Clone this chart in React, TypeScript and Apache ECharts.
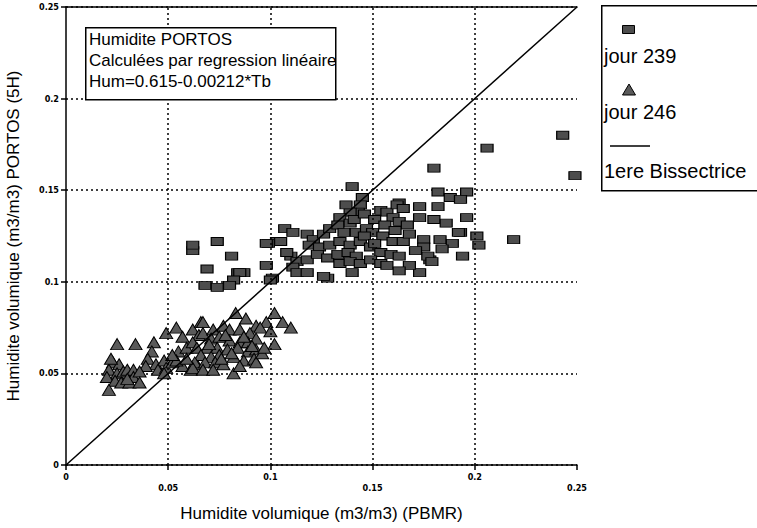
import React, { useEffect, useRef } from "react";
import * as echarts from "echarts";

// jour 239 (squares)
const sqX = [0.243,0.249,0.206,0.180,0.140,0.182,0.188,0.196,0.193,0.173,0.182,0.163,0.196,0.173,0.180,0.186,0.219,0.201,0.202,0.193,0.175,0.175,0.183,0.189,0.194,0.178,0.173,0.192,0.184,0.177,0.179,
0.145,0.144,0.143,0.139,0.134,0.154,0.157,0.162,0.165,0.160,0.163,0.167,0.107,0.111,0.103,0.099,0.118,0.121,0.126,0.129,0.133,0.139,0.136,0.142,0.147,0.150,0.155,0.160,0.165,0.119,0.124,0.129,0.134,0.139,0.144,0.149,0.154,0.159,0.163,0.110,0.113,0.118,0.123,0.128,0.133,0.138,0.142,0.134,0.139,0.144,0.149,0.154,0.157,0.108,0.111,0.113,0.118,0.128,0.140,0.101,0.087,0.081,0.084,0.126,0.105,
0.062,0.062,0.074,0.069,0.085,0.082,0.080,0.068,0.074,0.098,0.098,0.100,
0.137,0.141,0.146,0.151,0.156,0.146,0.151,0.161,0.168,0.171,0.168,0.163];
const sqY = [0.180,0.158,0.173,0.162,0.152,0.149,0.146,0.149,0.145,0.141,0.141,0.143,0.135,0.135,0.134,0.132,0.123,0.125,0.120,0.127,0.123,0.119,0.123,0.121,0.114,0.112,0.105,0.127,0.118,0.114,0.111,
0.146,0.142,0.138,0.138,0.135,0.139,0.138,0.142,0.140,0.135,0.133,0.131,0.129,0.127,0.122,0.121,0.126,0.123,0.126,0.129,0.131,0.132,0.127,0.127,0.129,0.127,0.125,0.122,0.122,0.120,0.119,0.120,0.122,0.120,0.122,0.119,0.116,0.115,0.114,0.114,0.111,0.112,0.115,0.113,0.115,0.116,0.114,0.110,0.111,0.110,0.112,0.110,0.109,0.116,0.108,0.105,0.105,0.102,0.105,0.102,0.105,0.114,0.105,0.103,0.122,
0.117,0.120,0.122,0.107,0.105,0.101,0.098,0.098,0.097,0.121,0.109,0.101,
0.142,0.134,0.137,0.134,0.131,0.125,0.121,0.128,0.126,0.117,0.109,0.106];

// jour 246 (triangles)
const triX = [0.025,0.034,0.043,0.042,0.040,0.023,0.026,0.021,0.025,0.028,0.030,0.033,0.020,0.024,0.027,0.031,0.033,0.021,0.044,0.048,0.045,0.049,0.052,0.049,0.054,0.057,0.062,0.066,0.065,0.055,0.059,0.062,0.057,0.061,0.064,0.054,0.048,0.039,0.036,
0.083,0.088,0.102,0.106,0.098,0.093,0.067,0.067,0.072,0.077,0.080,0.085,0.090,0.095,0.100,0.093,0.071,0.075,0.080,0.085,0.089,0.102,0.064,0.069,0.074,0.079,0.084,0.089,0.093,0.066,0.071,0.075,0.082,0.087,0.092,0.063,0.068,0.073,0.077,0.093,0.082,0.062,0.067,0.072,0.110,
0.078,0.087,0.070,0.091,0.081,0.096,0.076,0.085,0.059,0.052,0.030,0.036,0.022,0.097];
const triY = [0.066,0.066,0.067,0.062,0.058,0.056,0.055,0.052,0.050,0.051,0.052,0.052,0.048,0.046,0.045,0.045,0.048,0.041,0.055,0.057,0.052,0.053,0.056,0.072,0.075,0.070,0.074,0.078,0.071,0.062,0.064,0.067,0.054,0.052,0.055,0.057,0.050,0.054,0.051,
0.083,0.080,0.083,0.078,0.078,0.076,0.078,0.072,0.074,0.076,0.074,0.074,0.072,0.075,0.073,0.069,0.069,0.070,0.068,0.067,0.067,0.066,0.064,0.064,0.064,0.063,0.064,0.062,0.063,0.060,0.059,0.060,0.059,0.057,0.058,0.056,0.056,0.056,0.055,0.056,0.050,0.053,0.052,0.052,0.075,
0.071,0.070,0.066,0.065,0.061,0.061,0.058,0.054,0.058,0.060,0.047,0.045,0.058,0.064];

const bisX = [0, 0.25];
const bisY = [0, 0.25];
const xGridValues = [0.05, 0.1, 0.15, 0.2];

const seriesNames = ["jour 239", "jour 246", "1ere Bissectrice"];
const boxLines = ["Humidite PORTOS", "Calculées par regression linéaire", "Hum=0.615-0.00212*Tb"];
const xTitle = "Humidite volumique (m3/m3) (PBMR)";
const yTitle = "Humidite volumique (m3/m3) PORTOS (5H)";

const FONT = "'Liberation Sans', Arial, sans-serif";
const TICKFONT = "'Liberation Sans Narrow', 'DejaVu Sans Condensed', 'Liberation Sans', sans-serif";
const SQ_FILL = "#4d4d4d";
const TRI_FILL = "#5a5a5a";

export default function App() {
  const ref = useRef<HTMLDivElement>(null);
  useEffect(() => {
    if (!ref.current) return;
    const chart = echarts.init(ref.current, null, { renderer: "svg" });
    const sqData = sqX.map((x, i) => [x, sqY[i]]);
    const triData = triX.map((x, i) => [x, triY[i]]);
    const bisData = bisX.map((x, i) => [x, bisY[i]]);
    const tickLabel = {
      fontSize: 9,
      fontWeight: "bold" as const,
      fontFamily: TICKFONT,
      color: "#000",
    };
    const dotted = { color: "#000", type: [2, 3] as number[], width: 1.5 };
    chart.setOption({
      animation: false,
      backgroundColor: "#fff",
      grid: { left: 66, right: 180, top: 7, bottom: 63, containLabel: false, outerBoundsMode: "none" },
      xAxis: [
        {
          type: "value",
          min: 0,
          max: 0.25,
          interval: 0.05,
          name: xTitle,
          nameLocation: "middle",
          nameGap: 40,
          nameTextStyle: { fontSize: 17, fontFamily: FONT, color: "#000" },
          axisLine: { lineStyle: { color: "#000", width: 1.5 } },
          axisTick: { length: 5, lineStyle: { color: "#000", width: 1.5 } },
          axisLabel: {
            ...tickLabel,
            margin: 6,
            lineHeight: 11,
            formatter: (v: number) => {
              const k = Math.round(v / 0.05);
              const s = String(Math.round(v * 100) / 100);
              return k % 2 === 1 ? "\n" + s : s;
            },
          },
          splitLine: { show: false },
        },
        {
          type: "value",
          position: "top",
          min: 0,
          max: 0.25,
          interval: 0.05,
          axisLine: { show: true, lineStyle: { color: "#000", width: 1.5 } },
          axisTick: { show: false },
          axisLabel: { show: false },
          splitLine: { show: false },
        },
      ],
      yAxis: {
        type: "value",
        min: 0,
        max: 0.25,
        interval: 0.05,
        name: yTitle,
        nameLocation: "middle",
        nameGap: 44,
        nameTextStyle: { fontSize: 17, fontFamily: FONT, color: "#000" },
        axisLine: { show: true, lineStyle: { color: "#000", width: 1.5 } },
        axisTick: { show: true, length: 5, lineStyle: { color: "#000", width: 1.5 } },
        axisLabel: { ...tickLabel, margin: 7, formatter: (v: number) => String(Math.round(v * 100) / 100) },
        splitLine: { show: true, lineStyle: dotted },
      },
      series: [
        {
          name: "grid",
          type: "line",
          data: [],
          z: 1,
          markLine: {
            silent: true,
            symbol: "none",
            label: { show: false },
            lineStyle: dotted,
            data: xGridValues.map((v) => ({ xAxis: v })),
          },
        },
        {
          name: seriesNames[0],
          type: "scatter",
          symbol: "rect",
          symbolSize: [12, 8],
          data: sqData,
          itemStyle: { color: SQ_FILL, borderColor: "#000", borderWidth: 1, opacity: 1 },
          z: 3,
        },
        {
          name: seriesNames[1],
          type: "scatter",
          symbol: "triangle",
          symbolSize: [13, 11],
          data: triData,
          itemStyle: { color: TRI_FILL, borderColor: "#000", borderWidth: 1, opacity: 1 },
          z: 3,
        },
        {
          name: seriesNames[2],
          type: "line",
          data: bisData,
          symbol: "none",
          lineStyle: { color: "#000", width: 1.5 },
          z: 4,
        },
      ],
      graphic: [
        // text box
        {
          type: "rect",
          left: 85,
          top: 27,
          shape: { width: 250, height: 72 },
          style: { fill: "#fff", stroke: "#000", lineWidth: 1.5 },
          z: 10,
        },
        ...boxLines.map((t, i) => ({
          type: "text",
          left: 89,
          top: 31 + i * 21,
          style: { text: t, font: `17px ${FONT}`, fill: "#000" },
          z: 11,
        })),
        // legend box
        {
          type: "rect",
          left: 601,
          top: 5,
          shape: { width: 170, height: 185 },
          style: { fill: "#fff", stroke: "#000", lineWidth: 1.5 },
          z: 10,
        },
        {
          type: "rect",
          left: 622,
          top: 25,
          shape: { width: 12, height: 8 },
          style: { fill: SQ_FILL, stroke: "#000", lineWidth: 1 },
          z: 11,
        },
        {
          type: "text",
          left: 604,
          top: 46,
          style: { text: seriesNames[0], font: `20px ${FONT}`, fill: "#000" },
          z: 11,
        },
        {
          type: "polygon",
          shape: { points: [[629, 84], [635.5, 95], [622.5, 95]] },
          style: { fill: TRI_FILL, stroke: "#000", lineWidth: 1 },
          z: 11,
        },
        {
          type: "text",
          left: 604,
          top: 102,
          style: { text: seriesNames[1], font: `20px ${FONT}`, fill: "#000" },
          z: 11,
        },
        {
          type: "line",
          shape: { x1: 610, y1: 146, x2: 650, y2: 146 },
          style: { stroke: "#000", lineWidth: 1.5 },
          z: 11,
        },
        {
          type: "text",
          left: 604,
          top: 161,
          style: { text: seriesNames[2], font: `20px ${FONT}`, fill: "#000" },
          z: 11,
        },
      ],
    });
    return () => chart.dispose();
  }, []);
  return (
    <div
      ref={ref}
      style={{ position: "fixed", left: 0, top: 0, width: 757, height: 528, background: "#fff" }}
    />
  );
}
